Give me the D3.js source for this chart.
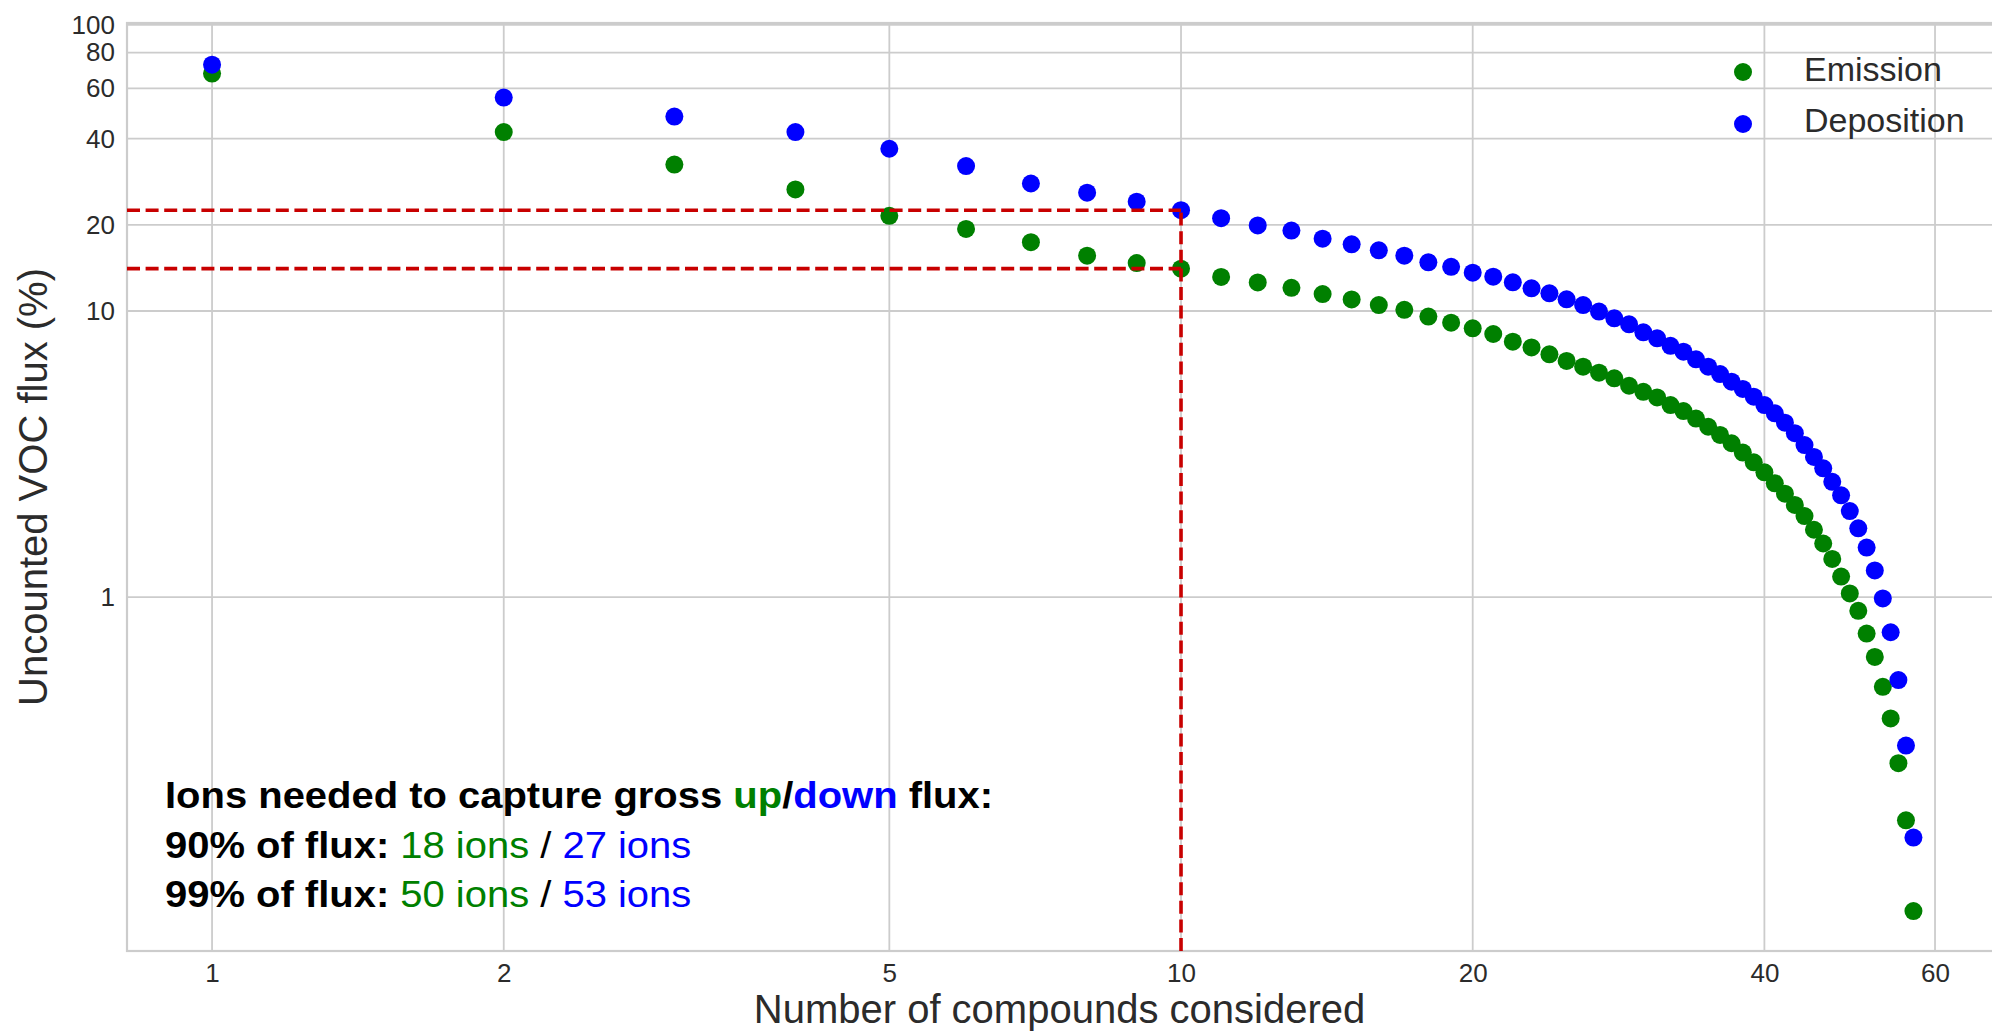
<!DOCTYPE html>
<html>
<head>
<meta charset="utf-8">
<script src="https://cdn.jsdelivr.net/npm/d3@7"></script>
<style>
  body { margin: 0; background: #fff; }
  text { font-family: "Liberation Sans", Arial, Helvetica, sans-serif; }
</style>
</head>
<body>
<div id="voc_chart"></div>
<script>
// number of compounds considered (x) and uncounted flux in %
var compounds = [1, 2, 3, 4, 5, 6, 7, 8, 9, 10, 11, 12, 13, 14, 15, 16, 17, 18, 19, 20,
  21, 22, 23, 24, 25, 26, 27, 28, 29, 30, 31, 32, 33, 34, 35, 36, 37, 38, 39, 40,
  41, 42, 43, 44, 45, 46, 47, 48, 49, 50, 51, 52, 53, 54, 55, 56, 57];

var emission = [67.6, 42.2, 32.5, 26.6, 21.5, 19.35, 17.4, 15.6, 14.7, 14.06,
  13.16, 12.58, 12.05, 11.46, 10.98, 10.49, 10.1, 9.56, 9.1, 8.7,
  8.31, 7.81, 7.46, 7.06, 6.69, 6.39, 6.09, 5.82, 5.48, 5.22,
  4.99, 4.69, 4.47, 4.21, 3.94, 3.69, 3.45, 3.2, 2.96, 2.73,
  2.5, 2.3, 2.1, 1.92, 1.72, 1.54, 1.36, 1.18, 1.03, 0.896,
  0.746, 0.618, 0.486, 0.377, 0.263, 0.166, 0.08];

var deposition = [72.6, 55.7, 47.8, 42.2, 36.9, 32.1, 27.9, 25.9, 24.1, 22.5,
  21.1, 19.9, 19.1, 17.9, 17.1, 16.3, 15.6, 14.8, 14.27, 13.61,
  13.18, 12.6, 12.0, 11.53, 10.99, 10.49, 9.95, 9.43, 8.98, 8.42,
  8.03, 7.56, 7.21, 6.78, 6.39, 6.02, 5.66, 5.34, 5.02, 4.69,
  4.39, 4.07, 3.74, 3.4, 3.09, 2.82, 2.53, 2.27, 2.0, 1.74,
  1.49, 1.24, 0.99, 0.754, 0.513, 0.303, 0.1445];

var seriesNames = ["Emission", "Deposition"];
var xTicks = [1, 2, 5, 10, 20, 40, 60];
var yTicks = [1, 10, 20, 40, 60, 80, 100];
var cutoff = 10;   // red dashed guide lines

// annotation text
var noteTitle = ["Ions needed to capture gross ", "up", "/", "down", " flux:"];
var fluxLevels = ["90%", "99%"];
var ionsEmission = [18, 50];
var ionsDeposition = [27, 53];

// set the dimensions and margins of the graph
var margin = {top: 23, right: 0, bottom: 82, left: 127},
    width = 1992 - margin.left - margin.right,
    height = 1033 - margin.top - margin.bottom;

var root = d3.select("#voc_chart")
  .append("svg")
    .attr("width", 1992)
    .attr("height", 1033)
    .style("display", "block")
    .style("background", "#fff");

var svg = root.append("g")
    .attr("transform", "translate(" + margin.left + "," + margin.top + ")");

var color = d3.scaleOrdinal()
  .domain(seriesNames)
  .range(["#008000", "#0000ff"]);

var x = d3.scaleLog()
  .domain([0.817, 68.7])
  .range([0, width]);

var y = d3.scaleLog()
  .domain([0.058, 101.5])
  .range([height, 0]);

// grid
svg.selectAll("vgrid")
  .data(xTicks)
  .enter()
  .append("line")
    .attr("x1", function(d) { return x(d); })
    .attr("x2", function(d) { return x(d); })
    .attr("y1", 0)
    .attr("y2", height)
    .style("stroke", "#cccccc")
    .style("stroke-width", 1.8);

svg.selectAll("hgrid")
  .data(yTicks)
  .enter()
  .append("line")
    .attr("x1", 0)
    .attr("x2", width)
    .attr("y1", function(d) { return y(d); })
    .attr("y2", function(d) { return y(d); })
    .style("stroke", "#cccccc")
    .style("stroke-width", 1.8);

// frame (right side runs off the picture, as in the original crop)
svg.append("rect")
  .attr("x", 0)
  .attr("y", 0)
  .attr("width", width + 20)
  .attr("height", height)
  .style("fill", "none")
  .style("stroke", "#cccccc")
  .style("stroke-width", 2.2);

// X axis
svg.append("g")
  .attr("transform", "translate(0," + height + ")")
  .call(d3.axisBottom(x).tickValues(xTicks).tickFormat(d3.format("d")).tickSize(0).tickPadding(13))
  .call(function(g) { g.select(".domain").remove(); })
  .attr("font-size", 26)
  .attr("font-family", null)
  .style("color", "#2b2b2b");

// Y axis
svg.append("g")
  .call(d3.axisLeft(y).tickValues(yTicks).tickFormat(d3.format("d")).tickSize(0).tickPadding(12))
  .call(function(g) { g.select(".domain").remove(); })
  .attr("font-size", 26)
  .attr("font-family", null)
  .style("color", "#2b2b2b");

// axis labels
svg.append("text")
  .attr("text-anchor", "middle")
  .attr("x", width / 2)
  .attr("y", height + 72)
  .style("font-size", "40px")
  .style("fill", "#2b2b2b")
  .text("Number of compounds considered");

svg.append("text")
  .attr("text-anchor", "middle")
  .attr("transform", "translate(" + (47 - margin.left) + "," + (height / 2) + ") rotate(-90)")
  .style("font-size", "40px")
  .style("fill", "#2b2b2b")
  .text("Uncounted VOC flux (%)");

// scatter points
var series = [{key: "Emission", values: emission}, {key: "Deposition", values: deposition}];

series.forEach(function(s) {
  svg.selectAll("dot_" + s.key)
    .data(s.values)
    .enter()
    .append("circle")
      .attr("cx", function(d, i) { return x(compounds[i]); })
      .attr("cy", function(d) { return y(d); })
      .attr("r", 9)
      .style("fill", color(s.key));
});

// red dashed guides at the cutoff
var ci = compounds.indexOf(cutoff);
var guides = [
  [[x.domain()[0], deposition[ci]], [cutoff, deposition[ci]]],
  [[x.domain()[0], emission[ci]], [cutoff, emission[ci]]],
  [[cutoff, y.domain()[0]], [cutoff, deposition[ci]]]
];
svg.selectAll("guide")
  .data(guides)
  .enter()
  .append("path")
    .attr("d", d3.line().x(function(d) { return x(d[0]); }).y(function(d) { return y(d[1]); }))
    .style("fill", "none")
    .style("stroke", "#c80000")
    .style("stroke-width", 3.6)
    .style("stroke-dasharray", "13,5.6");

// LEGEND
root.selectAll("legdot")
  .data(seriesNames)
  .enter()
  .append("circle")
    .attr("cx", 1743)
    .attr("cy", function(d, i) { return 72 + i * 52; })
    .attr("r", 9)
    .style("fill", function(d) { return color(d); });

root.selectAll("leglabel")
  .data(seriesNames)
  .enter()
  .append("text")
    .attr("x", 1804)
    .attr("y", function(d, i) { return 81 + i * 51; })
    .style("font-size", "34px")
    .style("fill", "#2b2b2b")
    .text(function(d) { return d; });

// annotation text
var note = root.append("g")
  .attr("transform", "translate(165,0) scale(1.08,1)");

var titleColors = ["#000", color("Emission"), "#000", color("Deposition"), "#000"];
var t1 = note.append("text")
  .attr("x", 0)
  .attr("y", 808)
  .style("font-size", "37px")
  .style("font-weight", "bold")
  .style("white-space", "pre");
t1.selectAll("tspan")
  .data(noteTitle)
  .enter()
  .append("tspan")
    .style("fill", function(d, i) { return titleColors[i]; })
    .text(function(d) { return d; });

fluxLevels.forEach(function(lvl, i) {
  var t = note.append("text")
    .attr("x", 0)
    .attr("y", 858 + i * 49)
    .style("font-size", "37px")
    .style("white-space", "pre");
  t.append("tspan").style("font-weight", "bold").style("fill", "#000").text(lvl + " of flux: ");
  t.append("tspan").style("fill", color("Emission")).text(ionsEmission[i] + " ions");
  t.append("tspan").style("fill", "#000").text(" / ");
  t.append("tspan").style("fill", color("Deposition")).text(ionsDeposition[i] + " ions");
});
</script>
</body>
</html>
